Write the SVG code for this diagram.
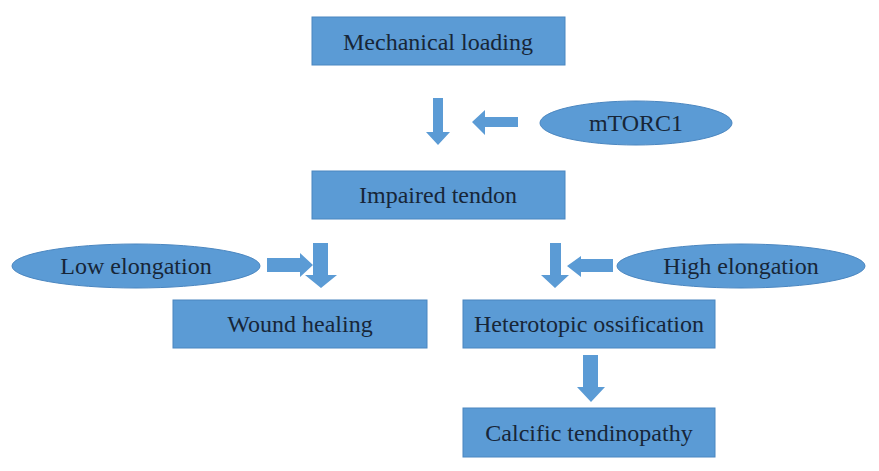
<svg xmlns="http://www.w3.org/2000/svg" width="879" height="471" viewBox="0 0 879 471">
<style>
.box{fill:#5b9bd5;stroke:#4a86c0;stroke-width:1}
.ell{fill:#5b9bd5;stroke:#4a86c0;stroke-width:1}
.arr{fill:#5b9bd5;stroke:none}
text{font-family:"Liberation Serif","Times New Roman",serif;font-size:24px;fill:#172638;text-anchor:middle;dominant-baseline:central}
</style>
<rect width="879" height="471" fill="#ffffff"/>
<g id="connectors">
<polygon class="arr" points="433,98 443,98 443,132 450,132 438,145 426,132 433,132"/>
<polygon class="arr" points="518,117 518,127 485,127 485,135 472,122 485,110 485,117"/>
<polygon class="arr" points="267,258 300,258 300,253 313,265 300,277 300,272 267,272"/>
<polygon class="arr" points="313,243 328,243 328,275 337,275 321,288 305,275 313,275"/>
<polygon class="arr" points="550,243 561,243 561,275 569,275 555,288 541,275 550,275"/>
<polygon class="arr" points="613,259 613,272 581,272 581,277 567,266 581,256 581,259"/>
<polygon class="arr" points="583,355 598,355 598,387 605,387 591,402 577,387 583,387"/>
</g>
<g id="mechanical-loading"><rect class="box" x="312" y="17" width="253" height="48"/><text x="438" y="42">Mechanical loading</text></g>
<g id="mtorc1"><ellipse class="ell" cx="636" cy="123" rx="96" ry="22"/><text x="636" y="123">mTORC1</text></g>
<g id="impaired-tendon"><rect class="box" x="312" y="171" width="253" height="48"/><text x="438" y="195">Impaired tendon</text></g>
<g id="low-elongation"><ellipse class="ell" cx="136" cy="266" rx="124" ry="22"/><text x="136" y="266">Low elongation</text></g>
<g id="high-elongation"><ellipse class="ell" cx="741" cy="266" rx="124" ry="22"/><text x="741" y="266">High elongation</text></g>
<g id="wound-healing"><rect class="box" x="173" y="300" width="254" height="48"/><text x="300" y="324">Wound healing</text></g>
<g id="heterotopic-ossification"><rect class="box" x="463" y="300" width="252" height="48"/><text x="589" y="324">Heterotopic ossification</text></g>
<g id="calcific-tendinopathy"><rect class="box" x="463" y="408" width="252" height="49"/><text x="589" y="433">Calcific tendinopathy</text></g>
</svg>
